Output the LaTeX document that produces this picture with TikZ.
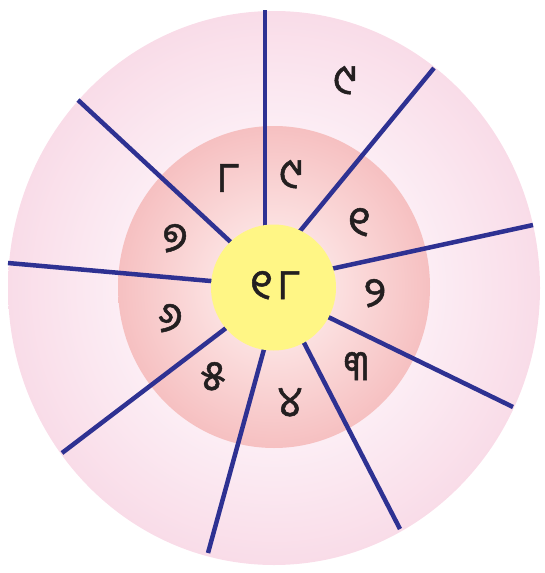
\documentclass[tikz,border=0pt]{standalone}
\usepackage{fontspec}
\usepackage{xcolor}
\usepackage{tikz}
\newfontfamily\oriya[Script=Oriya, FakeBold=1.2]{Noto Sans Oriya UI}

\definecolor{spokeblue}{RGB}{46,49,146}
\definecolor{ringpink}{RGB}{249,220,232}
\definecolor{ringlight}{RGB}{252,238,245}
\definecolor{discpink}{RGB}{246,192,193}
\definecolor{disclight}{RGB}{253,232,232}
\definecolor{hubyellow}{RGB}{255,246,133}
\definecolor{digitink}{RGB}{35,31,32}

\pgfdeclareradialshading{outerring}{\pgfpoint{0bp}{0bp}}{color(0bp)=(ringlight); color(14bp)=(ringlight); color(25bp)=(ringpink); color(50bp)=(ringpink)}
\pgfdeclareradialshading{innerdisc}{\pgfpoint{0bp}{0bp}}{color(0bp)=(disclight); color(6bp)=(disclight); color(25bp)=(discpink); color(50bp)=(discpink)}

\begin{document}
\begin{tikzpicture}[x=1pt, y=-1pt,
    spoke/.style={draw=spokeblue, line width=4.5pt},
    digit/.style={text=digitink, inner sep=0pt, font=\oriya\fontsize{42}{44}\selectfont}]
    \useasboundingbox (0,0) rectangle (545,573);

    % rings
    \shade[shading=outerring] (274,288) ellipse (266 and 277);
    \shade[shading=innerdisc] (274,287) ellipse (156 and 161);

    % spoke ends
    \coordinate (o1) at (265,10);   \coordinate (i1) at (265,235);
    \coordinate (o2) at (434,68);   \coordinate (i2) at (296,236);
    \coordinate (o3) at (533,225);  \coordinate (i3) at (326,270);
    \coordinate (o4) at (513,407);  \coordinate (i4) at (322,314);
    \coordinate (o5) at (400,529);  \coordinate (i5) at (300,335);
    \coordinate (o6) at (208,553);  \coordinate (i6) at (266,342);
    \coordinate (o7) at (62,453);   \coordinate (i7) at (234,322);
    \coordinate (o8) at (8,263);    \coordinate (i8) at (222,282);
    \coordinate (o9) at (78,100);   \coordinate (i9) at (236,247);

    \path[spoke]
    (o1) edge (i1)
    (o2) edge (i2)
    (o3) edge (i3)
    (o4) edge (i4)
    (o5) edge (i5)
    (o6) edge (i6)
    (o7) edge (i7)
    (o8) edge (i8)
    (o9) edge (i9);

    \fill[hubyellow] (273.5,287.5) ellipse (62.5 and 63);

    % digits
    \node[digit] (hub) at (275,287) {୧\kern4pt୮};
    \node[digit] (d8) at (228,180) {୮};
    \node[digit] (d9) at (291,176) {୯};
    \node[digit] (d1) at (359,224) {୧};
    \node[digit] (d2) at (375,295) {୨};
    \node[digit] (d3) at (356,368) {୩};
    \node[digit] (d4) at (290,404) {୪};
    \node[digit] (d5) at (213,378) {୫};
    \node[digit] (d6) at (170,320) {୬};
    \node[digit] (d7) at (175,240) {୭};
    \node[digit] (r9) at (345,82) {୯};
\end{tikzpicture}
\end{document}
